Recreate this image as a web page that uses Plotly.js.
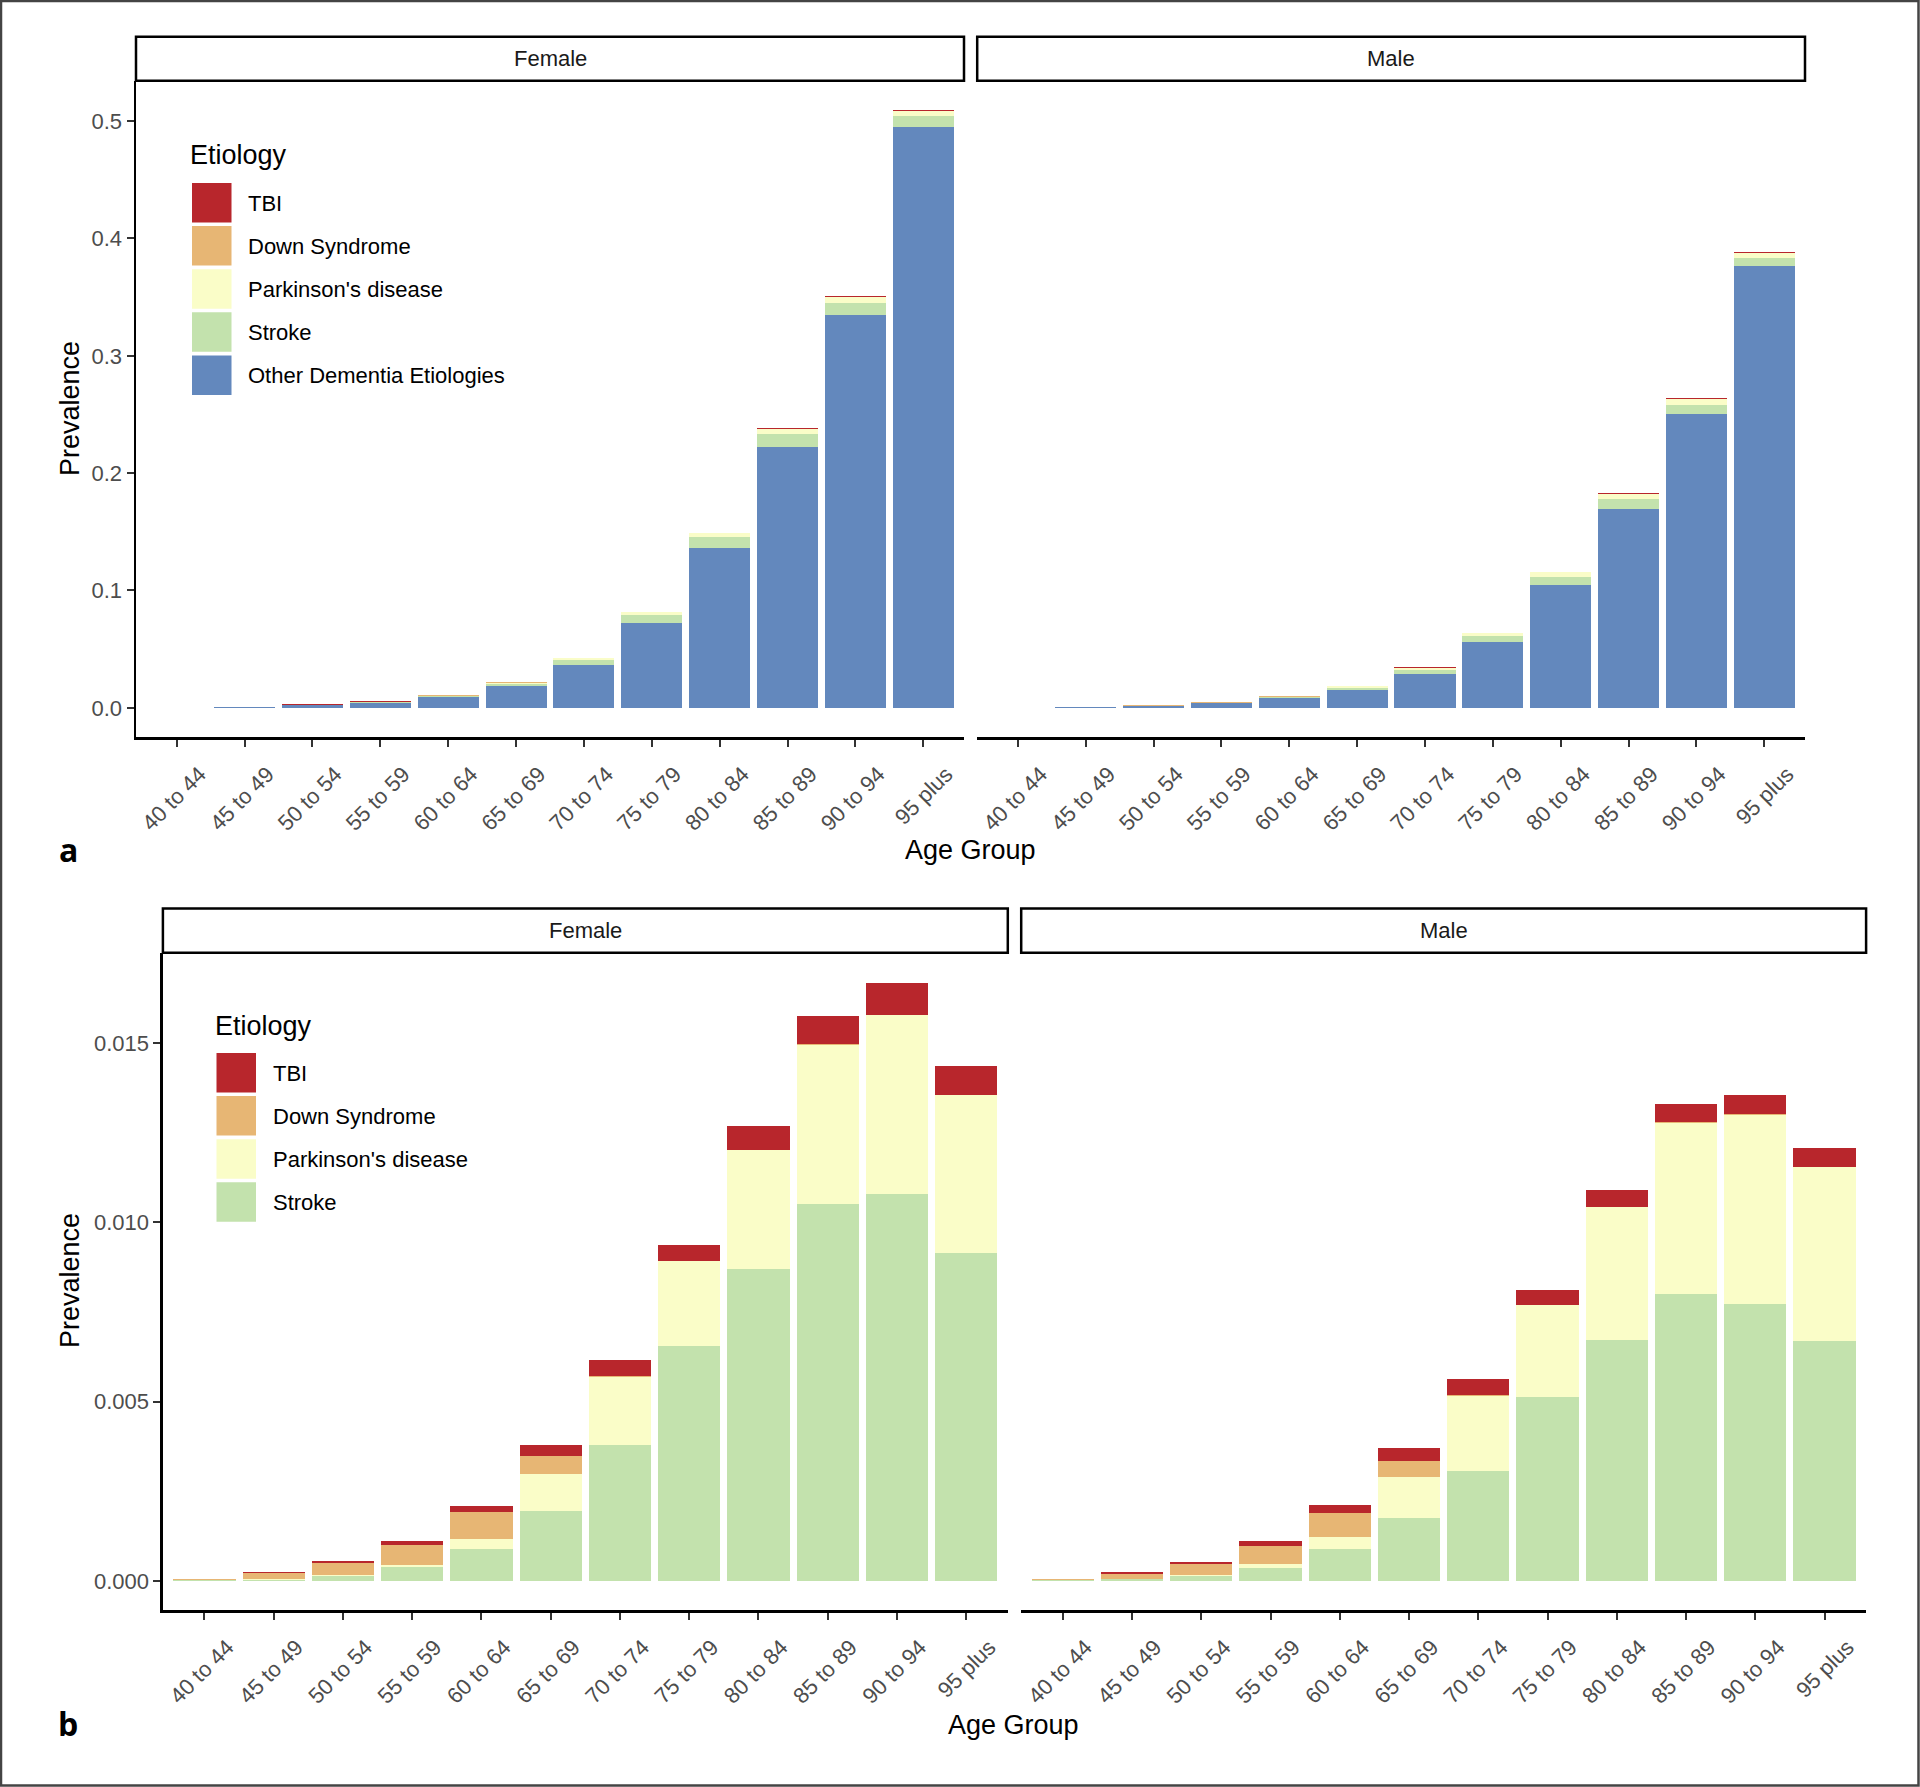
<!DOCTYPE html>
<html>
<head>
<meta charset="utf-8">
<script src="https://cdn.plot.ly/plotly-3.0.1.min.js"></script>
<style>
html,body{margin:0;padding:0;background:#fff;}
#chart{width:1920px;height:1787px;}
</style>
</head>
<body>
<div id="chart"></div>
<script>
// ---------------- DATA ----------------
const ageGroups = ["40 to 44","45 to 49","50 to 54","55 to 59","60 to 64","65 to 69","70 to 74","75 to 79","80 to 84","85 to 89","90 to 94","95 plus"];

const femaleOther   = [0.0002, 0.0006, 0.0023, 0.0043, 0.0088, 0.0182, 0.0367, 0.0724, 0.1366, 0.2226, 0.3345, 0.4950];
const femaleStroke  = [0.00001, 0.00003, 0.00013, 0.00038, 0.00090, 0.00196, 0.00380, 0.00656, 0.00871, 0.01052, 0.01080, 0.00916];
const femaleParkin  = [0.000005, 0.00001, 0.00003, 0.00007, 0.00027, 0.00101, 0.00190, 0.00236, 0.00331, 0.00444, 0.00498, 0.00440];
const femaleDown    = [0.00004, 0.00018, 0.00033, 0.00056, 0.00074, 0.00052, 0.00002, 0.00001, 0.00001, 0.00001, 0.00001, 0.00001];
const femaleTBI     = [0.000005, 0.00003, 0.00006, 0.00009, 0.00017, 0.00029, 0.00045, 0.00044, 0.00065, 0.00079, 0.00089, 0.00079];

const maleOther     = [0.0002, 0.0008, 0.0017, 0.0037, 0.0080, 0.0153, 0.0290, 0.0560, 0.1051, 0.1697, 0.2504, 0.3765];
const maleStroke    = [0.00001, 0.00005, 0.00013, 0.00037, 0.00088, 0.00174, 0.00307, 0.00512, 0.00673, 0.00800, 0.00772, 0.00670];
const maleParkin    = [0.000005, 0.00001, 0.00003, 0.00009, 0.00034, 0.00117, 0.00209, 0.00257, 0.00369, 0.00478, 0.00529, 0.00485];
const maleDown      = [0.00004, 0.00014, 0.00032, 0.00052, 0.00068, 0.00044, 0.00002, 0.00001, 0.00001, 0.00001, 0.00001, 0.00001];
const maleTBI       = [0.000005, 0.00004, 0.00005, 0.00012, 0.00021, 0.00035, 0.00046, 0.00041, 0.00048, 0.00051, 0.00055, 0.00051];

const etiologyLabels = ["TBI", "Down Syndrome", "Parkinson's disease", "Stroke", "Other Dementia Etiologies"];
const etiologyColors = ["#B8262C", "#E7B674", "#FAFDC8", "#C3E2AD", "#6388BD"];
const panelTitles = ["Female", "Male"];

// ---------------- HELPERS ----------------
const W = 1920, H = 1787;
const px = x => x / W;
const py = y => 1 - y / H;
const FONT = "Liberation Sans, Arial, sans-serif";

const femaleSeries = {"TBI": femaleTBI, "Down Syndrome": femaleDown, "Parkinson's disease": femaleParkin, "Stroke": femaleStroke, "Other Dementia Etiologies": femaleOther};
const maleSeries   = {"TBI": maleTBI, "Down Syndrome": maleDown, "Parkinson's disease": maleParkin, "Stroke": maleStroke, "Other Dementia Etiologies": maleOther};

const traces = [];
function addPanel(series, xa, ya, labels) {
  // stack from bottom: reverse of legend order
  for (let i = labels.length - 1; i >= 0; i--) {
    const lab = labels[i];
    const ci = etiologyLabels.indexOf(lab);
    traces.push({
      type: "bar", x: ageGroups, y: series[lab], name: lab,
      xaxis: xa, yaxis: ya, showlegend: false,
      marker: {color: etiologyColors[ci], line: {width: 0}},
      hoverinfo: "skip"
    });
  }
}
const labelsA = etiologyLabels.slice();
const labelsB = etiologyLabels.slice(0, 4);
addPanel(femaleSeries, "x", "y", labelsA);
addPanel(maleSeries, "x2", "y2", labelsA);
addPanel(femaleSeries, "x3", "y3", labelsB);
addPanel(maleSeries, "x4", "y4", labelsB);

// geometry (pixels in full image)
const A = {top: 80.8, bottom: 737.2, stripTop: 36.7, fx: [136, 964], mx: [977.2, 1805], yr: [-0.02505, 0.5344]};
const B = {top: 952.7, bottom: 1610.2, stripTop: 908.6, fx: [162.9, 1007.8], mx: [1021.2, 1866.1], yr: [-0.00082, 0.017528]};

const tickFont = {family: FONT, size: 22, color: "#4d4d4d"};

function xAxis(dom, anchor) {
  return {
    domain: [px(dom[0]), px(dom[1])], anchor: anchor,
    type: "category", categoryorder: "array", categoryarray: ageGroups,
    range: [-0.6, 11.6], showgrid: false, zeroline: false,
    showline: true, linecolor: "#000", linewidth: 2.5,
    ticks: "outside", ticklen: 7, tickwidth: 2, tickcolor: "#333",
    tickangle: -45, tickfont: tickFont, automargin: false,
    ticklabelshift: 23, ticklabelstandoff: 6
  };
}
function yAxis(P, anchor, dtick, fmt, show) {
  return {
    domain: [py(P.bottom), py(P.top)], anchor: anchor,
    range: P.yr, showgrid: false, zeroline: false,
    showline: show, linecolor: "#000", linewidth: 2.5,
    ticks: show ? "outside" : "", ticklen: 7, tickwidth: 2, tickcolor: "#333",
    showticklabels: show, dtick: dtick, tick0: 0, tickformat: fmt,
    tickfont: tickFont, automargin: false
  };
}

const layout = {
  width: W, height: H,
  margin: {l: 0, r: 0, t: 0, b: 0},
  paper_bgcolor: "#fff", plot_bgcolor: "rgba(0,0,0,0)",
  barmode: "stack", bargap: 0.1,
  showlegend: false,
  font: {family: FONT},
  xaxis: xAxis(A.fx, "y"),
  xaxis2: xAxis(A.mx, "y2"),
  xaxis3: xAxis(B.fx, "y3"),
  xaxis4: xAxis(B.mx, "y4"),
  yaxis: yAxis(A, "x", 0.1, ".1f", true),
  yaxis2: yAxis(A, "x2", 0.1, ".1f", false),
  yaxis3: yAxis(B, "x3", 0.005, ".3f", true),
  yaxis4: yAxis(B, "x4", 0.005, ".3f", false),
  shapes: [], annotations: []
};

// outer frame
layout.shapes.push({type: "rect", xref: "paper", yref: "paper", x0: px(1), x1: px(W - 1.5), y0: py(H - 1.5), y1: py(1), line: {color: "#444", width: 2.5}, fillcolor: "rgba(0,0,0,0)"});

// strips
function strip(P) {
  [P.fx, P.mx].forEach((xs, i) => {
    layout.shapes.push({type: "rect", xref: "paper", yref: "paper", x0: px(xs[0]), x1: px(xs[1]), y0: py(P.top), y1: py(P.stripTop), line: {color: "#000", width: 2.5}, fillcolor: "#fff"});
    layout.annotations.push({xref: "paper", yref: "paper", x: px((xs[0] + xs[1]) / 2), y: py((P.top + P.stripTop) / 2), text: panelTitles[i], showarrow: false, xanchor: "center", yanchor: "middle", font: {family: FONT, size: 22, color: "#1a1a1a"}});
  });
}
strip(A); strip(B);

// legends
function legend(labels, titleX, titleY, keyX, keyTop) {
  layout.annotations.push({xref: "paper", yref: "paper", x: px(titleX), y: py(titleY), text: "Etiology", showarrow: false, xanchor: "left", yanchor: "middle", font: {family: FONT, size: 27, color: "#000"}});
  labels.forEach((lab, i) => {
    const ci = etiologyLabels.indexOf(lab);
    const t = keyTop + i * 43.1;
    layout.shapes.push({type: "rect", xref: "paper", yref: "paper", x0: px(keyX), x1: px(keyX + 39.5), y0: py(t + 39.5), y1: py(t), line: {width: 0}, fillcolor: etiologyColors[ci]});
    layout.annotations.push({xref: "paper", yref: "paper", x: px(keyX + 54), y: py(t + 20.5), text: lab, showarrow: false, xanchor: "left", yanchor: "middle", font: {family: FONT, size: 22, color: "#000"}});
  });
}
legend(labelsA, 188, 155, 192, 183);
legend(labelsB, 213, 1026, 216.5, 1053);

// axis titles and panel letters
function txt(x, y, s, size, angle, extra) {
  layout.annotations.push(Object.assign({xref: "paper", yref: "paper", x: px(x), y: py(y), text: s, showarrow: false, xanchor: "center", yanchor: "middle", textangle: angle, font: {family: FONT, size: size, color: "#000"}}, extra || {}));
}
txt(970, 850, "Age Group", 27, 0);
txt(1014, 1725, "Age Group", 27, 0);
txt(70, 409, "Prevalence", 27, -90);
txt(70, 1281, "Prevalence", 27, -90);
txt(68, 849, "<b>a</b>", 32, 0, {font: {family: "Open Sans, sans-serif", size: 32, color: "#000"}});
txt(68, 1723, "<b>b</b>", 32, 0, {font: {family: "Open Sans, sans-serif", size: 32, color: "#000"}});

Plotly.newPlot("chart", traces, layout, {staticPlot: true, displayModeBar: false});
</script>
</body>
</html>
